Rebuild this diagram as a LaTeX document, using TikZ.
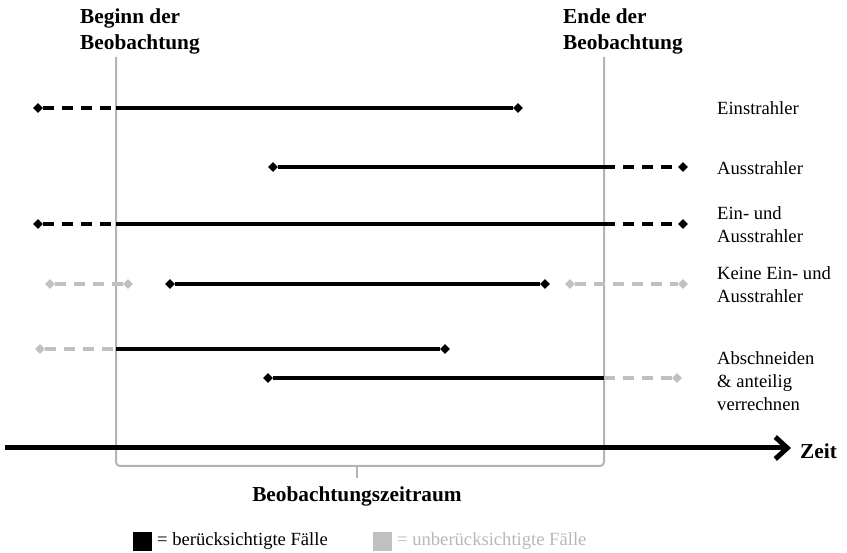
\documentclass[tikz,border=0pt]{standalone}
\usepackage{fontspec}
\setmainfont{Liberation Serif}
\usetikzlibrary{arrows.meta,shapes.geometric}
\definecolor{frame}{HTML}{B4B4B4}
\definecolor{faded}{HTML}{C0C0C0}
\definecolor{fadedtext}{HTML}{B8B8B8}
\tikzset{
  case/.style={line width=3.2pt, black},
  casedash/.style={line width=3.2pt, black, dash pattern=on 11pt off 8pt},
  skipdash/.style={line width=3.2pt, faded, dash pattern=on 11pt off 8pt},
  endpt/.style={diamond, fill=black, inner sep=0pt, minimum size=10pt},
  skipend/.style={diamond, fill=faded, inner sep=0pt, minimum size=10pt},
  rowlabel/.style={anchor=west, inner sep=0pt, align=left, font=\fontsize{18.6}{23}\selectfont},
  heading/.style={anchor=west, inner sep=0pt, align=left, font=\fontsize{21.3}{26}\selectfont\bfseries},
  limit/.style={frame, line width=2pt},
}
\begin{document}
\begin{tikzpicture}[x=1pt, y=-1pt]
\useasboundingbox (0,0) rectangle (847,553);

% observation window limits and the bracket beneath them
\coordinate (tl) at (116,57);
\coordinate (tr) at (604,57);
\coordinate (bl) at (116,466);
\coordinate (br) at (604,466);
\coordinate (mid) at (357,466);
\coordinate (midtip) at (357,478);
\draw[limit, rounded corners=4pt] (tl) -- (bl) -- (br) -- (tr);
\draw[limit] (mid) -- (midtip);

\node[heading] (hbeg) at (80,31) {Beginn der\\Beobachtung};
\node[heading] (hend) at (563,31) {Ende der\\Beobachtung};

% row 1: Einstrahler
\node[endpt] (e1a) at (38,108) {};
\coordinate (c1a) at (116,108);
\node[endpt] (e1b) at (518,108) {};
\draw[casedash] (e1a) -- (c1a);
\draw[case] (c1a) -- (e1b);
\node[rowlabel] (l1) at (717,108) {Einstrahler};

% row 2: Ausstrahler
\node[endpt] (e2a) at (273,167) {};
\coordinate (c2b) at (604,167);
\node[endpt] (e2b) at (683,167) {};
\draw[case] (e2a) -- (c2b);
\draw[casedash] (c2b) -- (e2b);
\node[rowlabel] (l2) at (717,168) {Ausstrahler};

% row 3: Ein- und Ausstrahler
\node[endpt] (e3a) at (38,224) {};
\coordinate (c3a) at (116,224);
\coordinate (c3b) at (604,224);
\node[endpt] (e3b) at (683,224) {};
\draw[casedash] (e3a) -- (c3a);
\draw[case] (c3a) -- (c3b);
\draw[casedash] (c3b) -- (e3b);
\node[rowlabel] (l3) at (717,225) {Ein- und\\Ausstrahler};

% row 4: Keine Ein- und Ausstrahler
\node[skipend] (g4a) at (50,284) {};
\node[skipend] (g4b) at (128,284) {};
\node[endpt] (e4a) at (170,284) {};
\node[endpt] (e4b) at (545,284) {};
\node[skipend] (g4c) at (570,284) {};
\node[skipend] (g4d) at (683,284) {};
\draw[skipdash] (g4a) -- (g4b);
\draw[case] (e4a) -- (e4b);
\draw[skipdash] (g4c) -- (g4d);
\node[rowlabel] (l4) at (717,285) {Keine Ein- und\\Ausstrahler};

% rows 5 and 6: Abschneiden & anteilig verrechnen
\node[skipend] (g5a) at (40,349) {};
\coordinate (c5a) at (116,349);
\node[endpt] (e5b) at (445,349) {};
\draw[skipdash] (g5a) -- (c5a);
\draw[case] (c5a) -- (e5b);

\node[endpt] (e6a) at (268,378) {};
\coordinate (c6b) at (604,378);
\node[skipend] (g6b) at (677,378) {};
\draw[case] (e6a) -- (c6b);
\draw[skipdash] (c6b) -- (g6b);
\node[rowlabel] (l5) at (717,381) {Abschneiden\\\& anteilig\\verrechnen};

% time axis
\coordinate (axl) at (5,448);
\coordinate (axr) at (791,448);
\draw[line width=5pt, -{Straight Barb[length=12pt, width=22pt]}] (axl) -- (axr);
\node[heading] (zeit) at (800,451) {Zeit};

\node[heading, anchor=center] (span) at (357,496) {Beobachtungszeitraum};

% legend
\node[fill=black, inner sep=0pt, minimum size=19pt] (kb) at (142.5,541.5) {};
\node[rowlabel, anchor=west] (kbt) at (157,541) {= berücksichtigte Fälle};
\node[fill=faded, inner sep=0pt, minimum size=19pt] (kg) at (382.5,541.5) {};
\node[rowlabel, anchor=west, text=fadedtext] (kgt) at (397,541) {= unberücksichtigte Fälle};
\end{tikzpicture}
\end{document}
